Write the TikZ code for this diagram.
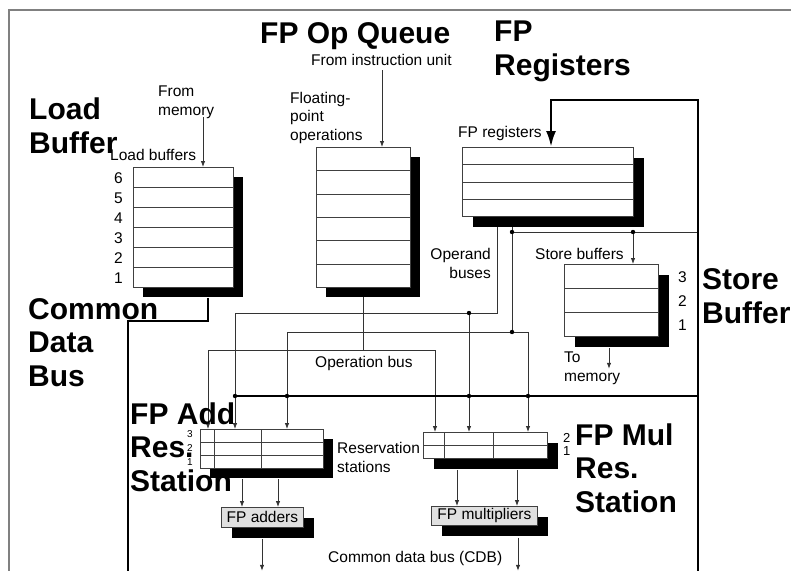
\documentclass[tikz,border=0pt]{standalone}
\usepackage{fontspec}
\setmainfont{Liberation Sans}
\usetikzlibrary{arrows.meta,shadows,calc}

\newcommand{\bufrows}[2]{%
  \pgfmathtruncatemacro{\lastrow}{#2-1}%
  \foreach \k in {1,...,\lastrow}
    \draw[rowline] ($(#1.north west)!\k/#2!(#1.south west)$) -- ($(#1.north east)!\k/#2!(#1.south east)$);%
}

\begin{document}
\begin{tikzpicture}[x=1pt,y=-1pt,
    every node/.style={font=\fontsize{15.5}{18.5}\selectfont, inner sep=0pt},
    buf/.style={draw=black!75, line width=0.8pt, fill=white, anchor=north west,
      drop shadow={shadow xshift=#1, shadow yshift=-#1, fill=black, opacity=1}},
    buf/.default=10pt,
    unit/.style={buf=11pt, fill=black!12},
    rowline/.style={draw=black!75, line width=0.8pt},
    wire/.style={draw=black!80, line width=0.8pt},
    arr/.style={wire, -{Latex[length=6pt,width=4.5pt]}},
    cdb/.style={draw=black, line width=2.6pt},
    frame/.style={draw=black!50, line width=1.4pt},
    big/.style={font=\bfseries\fontsize{30}{33.5}\selectfont, align=left, anchor=base west},
    lbl/.style={align=left, anchor=base west}]
  \useasboundingbox (0,0) rectangle (791,570);
  \draw[frame] (9,580) |- (800,10);

  \node[buf] (lb) at (133,167) [minimum width=100pt, minimum height=120pt] {};
  \bufrows{lb}{6}
  \node[buf] (opq) at (316,147) [minimum width=94pt, minimum height=140pt] {};
  \bufrows{opq}{6}
  \node[buf=11pt] (fpr) at (462,147) [minimum width=171pt, minimum height=69pt] {};
  \bufrows{fpr}{4}
  \node[buf=11pt] (sb) at (564,264) [minimum width=94pt, minimum height=72pt] {};
  \bufrows{sb}{3}
  \node[buf] (ars) at (200,429) [minimum width=123pt, minimum height=39pt] {};
  \bufrows{ars}{3}
  \draw[rowline] ($(ars.north west)+(14,0)$) -- ($(ars.south west)+(14,0)$);
  \draw[rowline] ($(ars.north west)+(61,0)$) -- ($(ars.south west)+(61,0)$);
  \node[buf=11pt] (mrs) at (423,432) [minimum width=124pt, minimum height=26pt] {};
  \bufrows{mrs}{2}
  \draw[rowline] ($(mrs.north west)+(21,0)$) -- ($(mrs.south west)+(21,0)$);
  \draw[rowline] ($(mrs.north west)+(70,0)$) -- ($(mrs.south west)+(70,0)$);
  \node[unit] (fpa) at (221,507) [minimum width=82pt, minimum height=20pt] {FP adders};
  \node[unit] (fpm) at (431,506) [minimum width=106pt, minimum height=19pt] {FP multipliers};

  \coordinate (opnd1) at (497,227);
  \coordinate (opnd2) at (512,227);
  \coordinate (ob1) at (469,313);
  \coordinate (ob2) at (512,332);
  \coordinate (st1) at (512,232);
  \coordinate (st2) at (633,232);
  \coordinate (opout) at (363,297);
  \coordinate (opbus) at (363,350);
  \coordinate (cdb1) at (235,396);
  \coordinate (cdb2) at (287,396);
  \coordinate (cdb3) at (469,396);
  \coordinate (cdb4) at (528,396);
  \coordinate (cdbr) at (698,396);

  \draw[arr] ($(lb.north west)+(70,-50)$) -- ($(lb.north west)+(70,0)$);
  \draw[arr] ($(opq.north west)+(66,-77)$) -- ($(opq.north west)+(66,0)$);

  \draw[arr] (opnd1) |- (cdb1 |- ob1) -- (cdb1 |- ars.north);
  \draw[arr] (ob1) -- (ob1 |- mrs.north);
  \draw[wire] (opnd2) -- (ob2);
  \draw[arr] (ob2) -| (cdb2 |- ars.north);
  \draw[arr] (ob2) -| (cdb4 |- mrs.north);
  \draw[wire] (st1) -- (st1 -| cdbr);
  \draw[arr] (st2) -- (st2 |- sb.north);
  \draw[wire] (opout) -- (opbus);
  \draw[arr] (opbus) -| ($(ars.north west)+(8,0)$);
  \draw[arr] (opbus) -| ($(mrs.north west)+(12,0)$);

  \draw[arr] ($(ars.south west)+(42,10)$) -- ($(fpa.north west)+(21,0)$);
  \draw[arr] ($(ars.south west)+(78,10)$) -- ($(fpa.north west)+(57,0)$);
  \draw[arr] ($(fpa.south west)+(41,11)$) -- ($(fpa.south west)+(41,43)$);
  \draw[arr] ($(mrs.south west)+(34,11)$) -- ($(fpm.north west)+(26,0)$);
  \draw[arr] ($(mrs.south west)+(94,11)$) -- ($(fpm.north west)+(86,0)$);
  \draw[arr] ($(fpm.south west)+(87,12)$) -- ($(fpm.south west)+(87,45)$);
  \draw[arr] ($(sb.south west)+(45,11)$) -- ++(0,21);

  \draw[cdb] ($(lb.south west)+(75,10)$) |- (128,321) -- (128,580);
  \draw[cdb, -{Latex[length=16pt,width=10pt]}] (698,580) |- ($(fpr.north west)+(89,-47)$) -- ($(fpr.north west)+(89,0)$);
  \draw[cdb] (cdb1) -- (cdbr);
  \foreach \j in {cdb1,cdb2,cdb3,cdb4,ob1,ob2,st1,st2}
    \fill (\j) circle (2.2pt);

  \node[lbl] (fmem) at (158,115) {From\\memory};
  \node[lbl] (tlbuf) at (110,160) {Load buffers};
  \node[lbl] (fpo) at (290,140) {Floating-\\point\\operations};
  \node[lbl] (finst) at (311,65) {From instruction unit};
  \node[lbl] (tfpreg) at (458,137) {FP registers};
  \node[lbl, align=right, anchor=base east] (topnd) at (491,278) {Operand\\buses};
  \node[lbl] (tsbuf) at (535,259) {Store buffers};
  \node[lbl] (tmem) at (564,381) {To\\memory};
  \node[lbl] (topb) at (315,367) {Operation bus};
  \node[lbl] (tres) at (337,472) {Reservation\\stations};
  \node[lbl] (tcdbl) at (328,562) {Common data bus (CDB)};
  \foreach \n [count=\i from 0] in {6,...,1}
    \node[lbl, anchor=base east] (lbn\n) at (123,{183+20*\i}) {\n};
  \foreach \n [count=\i from 0] in {3,2,1}
    \node[lbl] (sbn\n) at (678,{282+24*\i}) {\n};
  \foreach \n [count=\i from 0] in {3,2,1}
    \node[lbl, font=\fontsize{10}{12}\selectfont] (arn\n) at (187,{437+14*\i}) {\n};
  \foreach \n [count=\i from 0] in {2,1}
    \node[lbl, font=\fontsize{13}{15}\selectfont] (mrn\n) at (563,{442+13*\i}) {\n};

  \node[big] (tlb) at (29,153) {Load\\Buffer};
  \node[big] (topq) at (260,43) {FP Op Queue};
  \node[big] (tfpr) at (494,75) {FP\\Registers};
  \node[big] (tcdb) at (28,386) {Common\\Data\\Bus};
  \node[big] (tars) at (130,491) {FP Add\\Res.\\Station};
  \node[big] (tmrs) at (575,512) {FP Mul\\Res.\\Station};
  \node[big] (tsb) at (702,323) {Store\\Buffer};
\end{tikzpicture}
\end{document}
